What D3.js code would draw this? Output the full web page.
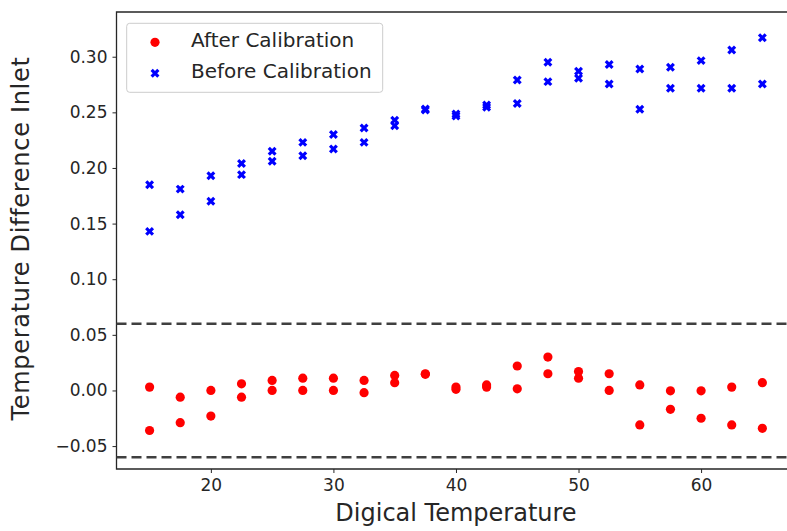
<!DOCTYPE html>
<html>
<head>
<meta charset="utf-8">
<script src="https://d3js.org/d3.v7.min.js"></script>
<style>
  body { margin: 0; background: #fff; }
  text { font-family: "DejaVu Sans", sans-serif; fill: #262626; }
</style>
</head>
<body>
<div id="my_dataviz"></div>
<script>
// digital temperature readings (x)
const temps = [15, 17.5, 20, 22.5, 25, 27.5, 30, 32.5, 35, 37.5, 40, 42.5, 45, 47.5, 50, 52.5, 55, 57.5, 60, 62.5, 65];

// temperature difference after calibration, two runs
const afterRun1 = [0.003, -0.006, 0.000, 0.006, 0.009, 0.011, 0.011, 0.009, 0.0135, 0.015, 0.003, 0.005, 0.022, 0.030, 0.017, 0.015, 0.005, -0.0003, -0.0003, 0.003, 0.007];
const afterRun2 = [-0.036, -0.029, -0.023, -0.006, 0.000, 0.000, 0.000, -0.002, 0.007, 0.0145, 0.001, 0.003, 0.0015, 0.015, 0.011, 0.000, -0.031, -0.017, -0.025, -0.031, -0.034];

// temperature difference before calibration, two runs
const beforeRun1 = [0.185, 0.181, 0.193, 0.204, 0.215, 0.223, 0.230, 0.236, 0.243, 0.253, 0.2485, 0.2566, 0.279, 0.295, 0.287, 0.293, 0.289, 0.2905, 0.2965, 0.306, 0.317];
const beforeRun2 = [0.143, 0.158, 0.170, 0.194, 0.206, 0.211, 0.217, 0.223, 0.238, 0.252, 0.2467, 0.2546, 0.258, 0.2776, 0.2806, 0.2755, 0.2527, 0.2716, 0.2716, 0.2716, 0.2755];

// tolerance band
const limits = [-0.06, 0.06];

const xTicks = [20, 30, 40, 50, 60];
const yTicks = [-0.05, 0, 0.05, 0.10, 0.15, 0.20, 0.25, 0.30];

const W = 787, H = 531,
      margin = { top: 12, left: 116.5, bottom: 62, right: -6 },
      width = W - margin.left - margin.right,
      height = H - margin.top - margin.bottom;

const svg = d3.select("#my_dataviz")
  .append("svg")
    .attr("width", W)
    .attr("height", H)
  .append("g")
    .attr("transform", `translate(${margin.left},${margin.top})`);

const x = d3.scaleLinear().domain([12.3, 67.5]).range([0, width]);
const y = d3.scaleLinear().domain([-0.0706, 0.3402]).range([height, 0]);

// axes
const xAxis = svg.append("g")
  .attr("transform", `translate(0,${height})`)
  .call(d3.axisBottom(x).tickValues(xTicks).tickSize(4).tickPadding(6).tickFormat(d3.format("d")));
const yAxis = svg.append("g")
  .call(d3.axisLeft(y).tickValues(yTicks).tickSize(4).tickPadding(5).tickFormat(d3.format(".2f")));

[xAxis, yAxis].forEach(a => {
  a.select(".domain").remove();
  a.selectAll("line").attr("stroke", "#262626").attr("stroke-width", 1);
  a.selectAll("text").style("font-size", "17px").attr("fill", "#262626");
});

// frame (top, left, bottom spines)
svg.append("path")
  .attr("d", `M${width},0H0V${height}H${width}`)
  .attr("fill", "none")
  .attr("stroke", "#262626")
  .attr("stroke-width", 1.3);

// dashed limit lines
svg.selectAll("limitLines")
  .data(limits)
  .join("line")
    .attr("x1", 0).attr("x2", width)
    .attr("y1", d => y(d)).attr("y2", d => y(d))
    .attr("stroke", "#3f3f3f")
    .attr("stroke-width", 2.5)
    .attr("stroke-dasharray", "10,5");

// after calibration points
const afterPts = temps.flatMap((t, i) => [[t, afterRun1[i]], [t, afterRun2[i]]]);
svg.selectAll("afterDots")
  .data(afterPts)
  .join("circle")
    .attr("cx", d => x(d[0]))
    .attr("cy", d => y(d[1]))
    .attr("r", 4.6)
    .attr("fill", "red");

// before calibration points (filled x marker)
const cross = d3.symbol().type(d3.symbolCross).size(50);
const beforePts = temps.flatMap((t, i) => [[t, beforeRun1[i]], [t, beforeRun2[i]]]);
svg.selectAll("beforeDots")
  .data(beforePts)
  .join("path")
    .attr("d", cross)
    .attr("transform", d => `translate(${x(d[0])},${y(d[1])}) rotate(45)`)
    .attr("fill", "blue");

// axis labels
svg.append("text")
  .attr("x", 456 - margin.left)
  .attr("y", 521 - margin.top)
  .attr("text-anchor", "middle")
  .style("font-size", "24px")
  .text("Digical Temperature");

svg.append("text")
  .attr("transform", `translate(${29 - margin.left},${238.5 - margin.top}) rotate(-90)`)
  .attr("text-anchor", "middle")
  .style("font-size", "24px")
  .style("letter-spacing", "0.7px")
  .text("Temperature Difference Inlet");

// legend
const legend = svg.append("g").attr("transform", `translate(${126.7 - margin.left},${23.3 - margin.top})`);
legend.append("rect")
  .attr("width", 256).attr("height", 69)
  .attr("rx", 3)
  .attr("fill", "white").attr("fill-opacity", 0.8)
  .attr("stroke", "#cccccc");
legend.append("circle")
  .attr("cx", 28.3).attr("cy", 19).attr("r", 4.6).attr("fill", "red");
legend.append("path")
  .attr("d", cross)
  .attr("transform", "translate(28.3,50) rotate(45)")
  .attr("fill", "blue");
legend.selectAll("legendText")
  .data(["After Calibration", "Before Calibration"])
  .join("text")
    .attr("x", 64.3)
    .attr("y", (d, i) => 23.4 + i * 31)
    .style("font-size", "20px")
    .text(d => d);
</script>
</body>
</html>
